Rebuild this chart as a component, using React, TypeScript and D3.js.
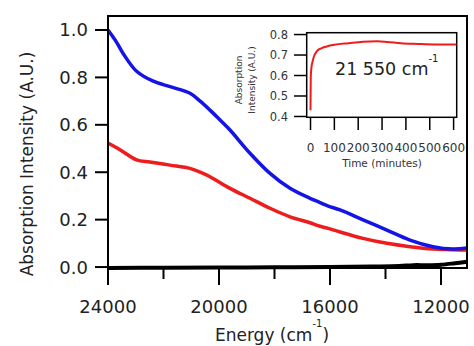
import React from "react";
import * as d3 from "d3";

const blueE = [24000, 23700, 23450, 22970, 22370, 21766, 21045, 20680, 20324, 19960, 19604, 18883, 18162, 17441, 16721, 16360, 16061, 15640, 14810, 13950, 13120, 12290, 11570, 11063];
const blueV = [1.0, 0.95, 0.9, 0.826, 0.784, 0.761, 0.733, 0.7, 0.662, 0.62, 0.578, 0.48, 0.395, 0.332, 0.29, 0.272, 0.257, 0.241, 0.199, 0.156, 0.114, 0.086, 0.076, 0.08];
const redE = [24000, 23570, 22970, 22490, 21766, 21045, 20680, 20324, 19604, 18883, 18162, 17441, 16721, 16360, 16061, 15640, 14810, 13950, 13120, 12290, 11300, 11063];
const redV = [0.523, 0.495, 0.452, 0.443, 0.43, 0.416, 0.4, 0.381, 0.332, 0.29, 0.248, 0.212, 0.187, 0.172, 0.163, 0.148, 0.121, 0.1, 0.086, 0.076, 0.072, 0.072];
const blackE = [24000, 22000, 20000, 18000, 16000, 14500, 13500, 13000, 12500, 12000, 11500, 11063];
const blackV = [-0.004, -0.003, -0.002, -0.001, 0.0, 0.002, 0.004, 0.008, 0.008, 0.01, 0.016, 0.022];

const insetT = [0, 1, 4, 9, 15, 26, 45, 68, 100, 160, 220, 280, 320, 380, 450, 520, 612];
const insetV = [0.43, 0.59, 0.64, 0.67, 0.695, 0.718, 0.733, 0.742, 0.75, 0.758, 0.765, 0.767, 0.764, 0.757, 0.754, 0.752, 0.752];

const xMajor = [24000, 20000, 16000, 12000];
const xMinor = [22000, 18000, 14000];
const yTicks = [0, 0.2, 0.4, 0.6, 0.8, 1.0];
const insetXTicks = [0, 100, 200, 300, 400, 500, 600];
const insetYTicks = [0.4, 0.5, 0.6, 0.7, 0.8];

const FONT = "DejaVu Sans";

export default function App() {
  const x = d3.scaleLinear().domain([24000, 11063]).range([108, 467]);
  const y = d3.scaleLinear().domain([-0.004, 1.059]).range([268, 16]);
  const ix = d3.scaleLinear().domain([-16, 613]).range([306.7, 456.7]);
  const iy = d3.scaleLinear().domain([0.396, 0.809]).range([117.3, 32.7]);

  const line = d3
    .line<[number, number]>()
    .x((d) => x(d[0]))
    .y((d) => y(d[1]))
    .curve(d3.curveCatmullRom);
  const iline = d3
    .line<[number, number]>()
    .x((d) => ix(d[0]))
    .y((d) => iy(d[1]))
    .curve(d3.curveMonotoneX);

  const zip = (a: number[], b: number[]) => a.map((v, i) => [v, b[i]] as [number, number]);

  return (
    <svg width={474} height={346} style={{ position: "absolute", left: 0, top: 0, background: "#fff" }} fontFamily={FONT}>
      <rect x={0} y={0} width={474} height={346} fill="#fff" />
      {/* curves */}
      <path d={line(zip(blackE, blackV)) || ""} fill="none" stroke="#000" strokeWidth={4} />
      <path d={line(zip(redE, redV)) || ""} fill="none" stroke="#ee1c1c" strokeWidth={3.5} />
      <path d={line(zip(blueE, blueV)) || ""} fill="none" stroke="#1414e6" strokeWidth={3.5} />
      {/* main frame */}
      <rect x={108} y={16} width={359} height={252} fill="none" stroke="#000" strokeWidth={2} />
      {yTicks.map((t) => (
        <g key={"y" + t}>
          <line x1={95} x2={108} y1={y(t)} y2={y(t)} stroke="#000" strokeWidth={2} />
          <text x={88} y={y(t)} dy="0.36em" textAnchor="end" fontSize={18} fill="#222">
            {t.toFixed(1)}
          </text>
        </g>
      ))}
      {xMajor.map((t) => (
        <g key={"x" + t}>
          <line x1={x(t)} x2={x(t)} y1={268} y2={285} stroke="#000" strokeWidth={2} />
          <text x={x(t)} y={313} textAnchor="middle" fontSize={18} fill="#222">
            {t}
          </text>
        </g>
      ))}
      {xMinor.map((t) => (
        <line key={"m" + t} x1={x(t)} x2={x(t)} y1={268} y2={279} stroke="#000" strokeWidth={2} />
      ))}
      <text x={272} y={341} textAnchor="middle" fontSize={17} fill="#222">
        Energy (cm
        <tspan dy={-14} fontSize={10}>-1</tspan>
        <tspan dy={14}>)</tspan>
      </text>
      <text transform="translate(33,164) rotate(-90)" textAnchor="middle" fontSize={17} fill="#222">
        Absorption Intensity (A.U.)
      </text>

      {/* inset */}
      <rect x={306.7} y={32.7} width={150} height={84.6} fill="#fff" stroke="#000" strokeWidth={1.5} />
      <path d={iline(zip(insetT, insetV)) || ""} fill="none" stroke="#ee1c1c" strokeWidth={2} />
      {insetYTicks.map((t) => (
        <g key={"iy" + t}>
          <line x1={294} x2={306.7} y1={iy(t)} y2={iy(t)} stroke="#000" strokeWidth={1.5} />
          <text x={288} y={iy(t)} dy="0.36em" textAnchor="end" fontSize={11.5} fill="#333">
            {t.toFixed(1)}
          </text>
        </g>
      ))}
      {insetXTicks.map((t) => (
        <g key={"ix" + t}>
          <line x1={ix(t)} x2={ix(t)} y1={117.3} y2={130} stroke="#000" strokeWidth={1.5} />
          <text x={ix(t)} y={152} textAnchor="middle" fontSize={12} fill="#333">
            {t}
          </text>
        </g>
      ))}
      <text x={382} y={167} textAnchor="middle" fontSize={10.5} fill="#333">
        Time (minutes)
      </text>
      <text transform="translate(242,80) rotate(-90)" textAnchor="middle" fontSize={9} fill="#333">
        Absorption
      </text>
      <text transform="translate(255,80) rotate(-90)" textAnchor="middle" fontSize={9} fill="#333">
        Intensity (A.U.)
      </text>
      <text x={335} y={75} fontSize={17.5} fill="#222">
        21 550 cm
        <tspan dy={-13} fontSize={10}>-1</tspan>
      </text>
    </svg>
  );
}
